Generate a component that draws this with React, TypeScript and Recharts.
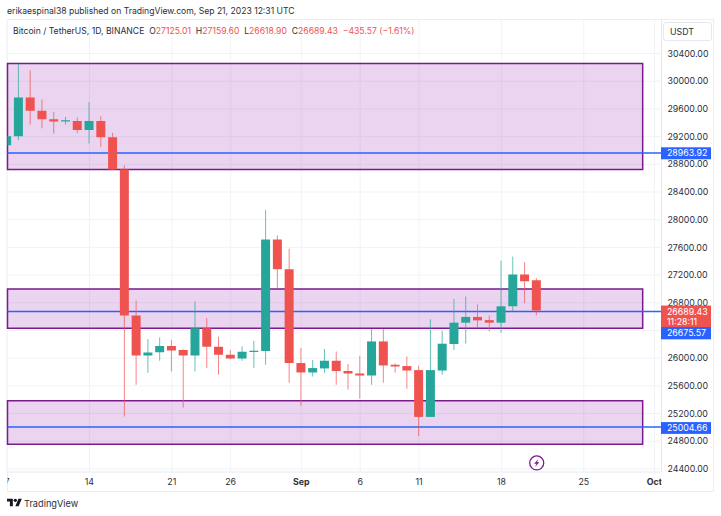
import React from 'react';
import { Bar, CartesianGrid, Cell, ComposedChart, ReferenceArea, ReferenceDot, ReferenceLine, XAxis, YAxis } from 'recharts';

const FONT = 'Inter, "Noto Sans", sans-serif';
const UP = '#26a69a';
const DOWN = '#ef5350';
const BLUE = '#2962ff';
const PURPLE = '#7a1a8c';
const TEXT = '#2a2e39';

// days counted from Aug 7
const days = [0, 1, 2, 3, 4, 5, 6, 7, 8, 9, 10, 11, 12, 13, 14, 15, 16, 17, 18, 19, 20, 21, 22, 23, 24, 25, 26, 27, 28, 29, 30, 31, 32, 33, 34, 35, 36, 37, 38, 39, 40, 41, 42, 43, 44, 45];
const opens = [29075, 29205, 29765, 29575, 29450, 29420, 29425, 29295, 29425, 29190, 28725, 26615, 26040, 26085, 26176, 26118, 26040, 26431, 26166, 26050, 25996, 26090, 26103, 27715, 27285, 25930, 25794, 25852, 25963, 25815, 25779, 25750, 26242, 25905, 25886, 25828, 25152, 25822, 26205, 26513, 26596, 26550, 26513, 26749, 27208, 27125.01];
const highs = [29265, 30250, 30160, 29735, 29555, 29485, 29475, 29700, 29495, 29255, 28785, 26832, 26277, 26300, 26263, 26130, 26821, 26581, 26310, 26118, 26170, 26253, 28145, 27773, 27580, 26147, 25973, 26132, 26098, 25915, 26035, 26422, 26422, 25924, 26025, 25890, 26561, 26397, 26856, 26890, 26774, 26615, 27411, 27469, 27386, 27159.6];
const lows = [29030, 29150, 29375, 29320, 29245, 29375, 29250, 29100, 29050, 28720, 25157, 25616, 25790, 25963, 25808, 25287, 25808, 25857, 25760, 25982, 25963, 25857, 25905, 27005, 25644, 25312, 25736, 25790, 25616, 25547, 25413, 25616, 25644, 25794, 25558, 24877, 25150, 25760, 26118, 26213, 26431, 26387, 26368, 26677, 26793, 26618.9];
const closes = [29205, 29765, 29575, 29450, 29420, 29435, 29295, 29425, 29190, 28725, 26615, 26040, 26083, 26176, 26112, 26040, 26431, 26166, 26050, 25996, 26093, 26108, 27715, 27285, 25930, 25794, 25857, 25963, 25814, 25779, 25750, 26242, 25895, 25880, 25822, 25152, 25828, 26209, 26513, 26596, 26546, 26513, 26749, 27208, 27111, 26689.43];

const xTicks = [0, 7, 14, 19, 25, 30, 35, 42, 49, 55];
const xLabels = ['7', '14', '21', '26', 'Sep', '6', '11', '18', '25', 'Oct'];
// 26400 sits behind the price tags, so it only gets a grid line
const yTicks = [24400, 24800, 25200, 25600, 26000, 26800, 27200, 27600, 28000, 28400, 28800, 29200, 29600, 30000, 30400];
const yGrid = [24400, 24800, 25200, 25600, 26000, 26400, 26800, 27200, 27600, 28000, 28400, 28800, 29200, 29600, 30000, 30400];

const zones = [
  [28724, 30258],
  [26431, 27001],
  [24757, 25384],
];
const levels = [28963.92, 26675.57, 25004.66];

const rows = days.map((day, i) => ({
  day,
  wick: [lows[i], highs[i]],
  body: [Math.min(opens[i], closes[i]), Math.max(opens[i], closes[i])],
  up: closes[i] >= opens[i],
}));

const X_DOMAIN: [number, number] = [0.04, 55.6];

function DateTick({ x, payload }: any) {
  const label = xLabels[xTicks.indexOf(payload.value)];
  const bold = label === 'Sep' || label === 'Oct';
  return (
    <g>
      <clipPath id={`tick-clip-${payload.value}`}>
        <rect x={7.5} y={470} width={654} height={20} />
      </clipPath>
      <text
        x={x}
        y={484.8}
        textAnchor="middle"
        fontSize={8.8}
        fontWeight={bold ? 700 : 400}
        fill={TEXT}
        fontFamily={FONT}
        clipPath={`url(#tick-clip-${payload.value})`}
      >
        {label}
      </text>
    </g>
  );
}

const priceTag = (text: string, fill: string, top: number, height: number, second?: string) => (props: any) => {
  const lineY = props.viewBox.y;
  const left = props.viewBox.x + props.viewBox.width - 0.5;
  return (
    <g fontFamily={FONT} fontSize={8.8} fill="#fff">
      <rect x={left} y={lineY + top} width={50} height={height} fill={fill} />
      <text x={left + 6} y={lineY + top + (second ? 9.3 : height / 2 + 3.2)}>{text}</text>
      {second && <text x={left + 6} y={lineY + top + 19.3}>{second}</text>}
    </g>
  );
};

function BoltDot({ cx, cy }: any) {
  return (
    <g>
      <circle cx={cx} cy={cy} r={7} fill="#fff" stroke={PURPLE} strokeWidth={1.3} />
      <path d={`M${cx + 1.6} ${cy - 4} L${cx - 2.6} ${cy + 0.8} H${cx - 0.2} L${cx - 1.6} ${cy + 4} L${cx + 2.6} ${cy - 0.8} H${cx + 0.2} Z`} fill={PURPLE} />
    </g>
  );
}

export default function App() {
  return (
    <div style={{ position: 'absolute', left: 0, top: 0, width: 721, height: 516, background: '#fff', fontFamily: FONT, overflow: 'hidden' }}>
      <div style={{ position: 'absolute', left: 7, top: 19, width: 705, height: 471, border: '1px solid #eceef3' }} />

      <div style={{ position: 'absolute', left: 0, top: 0 }}>
        <ComposedChart width={713} height={491} data={rows} margin={{ top: 19.5, right: 0, bottom: 0, left: 7.5 }}>
          <CartesianGrid xAxisId="dates" stroke="#f1f3f8" horizontalValues={yGrid} />
          <XAxis
            xAxisId="dates"
            dataKey="day"
            type="number"
            domain={X_DOMAIN}
            allowDataOverflow
            ticks={xTicks}
            interval={0}
            height={19}
            tick={<DateTick />}
            tickLine={false}
            axisLine={{ stroke: '#e6e8ee' }}
          />
          <XAxis xAxisId="wicks" dataKey="day" type="number" domain={X_DOMAIN} allowDataOverflow hide />
          <YAxis
            orientation="right"
            type="number"
            domain={[24356, 30892]}
            allowDataOverflow
            ticks={yTicks}
            interval={0}
            width={51.5}
            tickFormatter={(v: number) => v.toFixed(2)}
            tick={{ fontSize: 8.8, fill: TEXT, fontFamily: FONT }}
            tickLine={false}
            tickMargin={0}
            axisLine={{ stroke: '#e6e8ee' }}
          />

          {zones.map(([low, high]) => (
            <ReferenceArea
              key={low}
              xAxisId="dates"
              x1={0.04}
              x2={54}
              y1={low}
              y2={high}
              fill="#9c27b0"
              fillOpacity={0.2}
              stroke={PURPLE}
              strokeWidth={1.5}
              zIndex={100}
            />
          ))}
          {levels.map((level) => (
            <ReferenceLine key={level} xAxisId="dates" y={level} stroke={BLUE} strokeWidth={1.5} zIndex={150} />
          ))}

          <Bar xAxisId="wicks" dataKey="wick" barSize={1} isAnimationActive={false}>
            {rows.map((row) => (
              <Cell key={row.day} fill={row.up ? UP : DOWN} fillOpacity={0.7} />
            ))}
          </Bar>
          <Bar xAxisId="dates" dataKey="body" barSize={9} isAnimationActive={false}>
            {rows.map((row) => (
              <Cell key={row.day} fill={row.up ? UP : DOWN} />
            ))}
          </Bar>

          <ReferenceDot xAxisId="dates" x={45} y={24487} shape={<BoltDot />} />

          <ReferenceLine xAxisId="dates" y={levels[0]} strokeOpacity={0} zIndex={2500} label={priceTag('28963.92', BLUE, -5.7, 12)} />
          <ReferenceLine xAxisId="dates" y={26689.43} strokeOpacity={0} zIndex={2500} label={priceTag('26689.43', DOWN, -4.9, 21.5, '11:28:11')} />
          <ReferenceLine xAxisId="dates" y={levels[1]} strokeOpacity={0} zIndex={2500} label={priceTag('26675.57', BLUE, 15.6, 12.3)} />
          <ReferenceLine xAxisId="dates" y={levels[2]} strokeOpacity={0} zIndex={2500} label={priceTag('25004.66', BLUE, -5, 11.8)} />
        </ComposedChart>
      </div>

      <div style={{ position: 'absolute', left: 7, top: 4, fontSize: 8.6, lineHeight: '14px', color: TEXT, whiteSpace: 'nowrap' }}>
        erikaespinal38 published on TradingView.com, Sep 21, 2023 12:31 UTC
      </div>
      <div style={{ position: 'absolute', left: 13, top: 23.5, fontSize: 8.65, lineHeight: '14px', color: TEXT, whiteSpace: 'pre' }}>
        Bitcoin / TetherUS, 1D, BINANCE{'  '}O<span style={{ color: DOWN }}>27125.01</span>{'  '}H<span style={{ color: DOWN }}>27159.60</span>{'  '}L<span style={{ color: DOWN }}>26618.90</span>{'  '}C<span style={{ color: DOWN }}>26689.43</span>{'  '}<span style={{ color: DOWN }}>−435.57 (−1.61%)</span>
      </div>
      <div style={{ position: 'absolute', left: 663, top: 22, width: 41, height: 17, border: '1px solid #e6e8ee', borderRadius: 3, background: '#fff', fontSize: 8.8, lineHeight: '17px', color: TEXT, paddingLeft: 6 }}>
        USDT
      </div>

      <svg style={{ position: 'absolute', left: 7, top: 497 }} width={15} height={10} viewBox="0 0 36 24">
        <path d="M14 22H7V11H0V4h14v18zM28 22h-8l7.5-18h8L28 22z" fill="#131722" />
        <circle cx={20} cy={8} r={4} fill="#131722" />
      </svg>
      <div style={{ position: 'absolute', left: 24, top: 496, fontSize: 9.2, lineHeight: '16px', color: TEXT }}>TradingView</div>
    </div>
  );
}
